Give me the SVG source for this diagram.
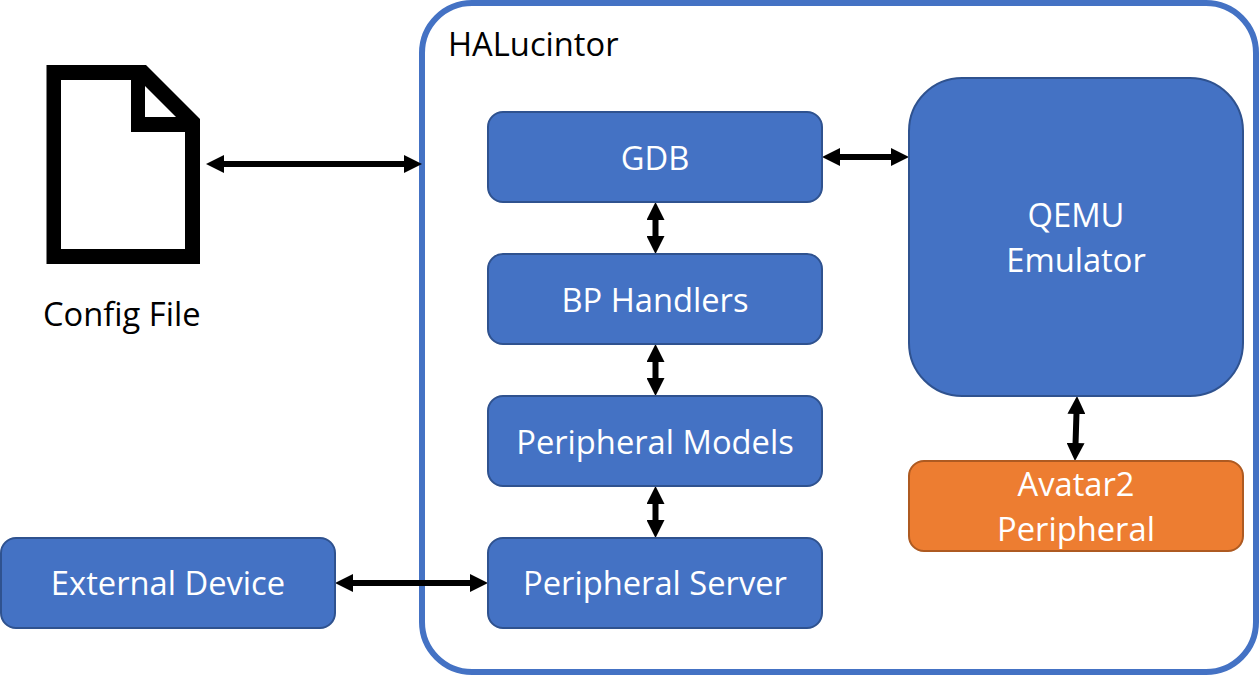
<svg xmlns="http://www.w3.org/2000/svg" width="1259" height="675" viewBox="0 0 1259 675">
<style>
text{font-family:"Open Sans","Noto Sans","Liberation Sans",sans-serif;font-size:32.7px}
.w{fill:#fff;text-anchor:middle}
.k{fill:#000}
.b{fill:#4472C4;stroke:#2F528F;stroke-width:2}
.o{fill:#ED7D31;stroke:#AE5A21;stroke-width:2}
.c{fill:none;stroke:#000;stroke-width:6}
</style>
<defs>
<marker id="h" markerUnits="userSpaceOnUse" markerWidth="18" markerHeight="18" refX="8" refY="9" orient="auto-start-reverse" viewBox="0 0 18 18">
<path d="M0 0L18 9L0 18Z" fill="#000"/>
</marker>
</defs>
<rect width="1259" height="675" fill="#fff"/>
<g id="halucintor">
<rect x="422" y="3" width="834" height="669" rx="50" fill="none" stroke="#4472C4" stroke-width="6"/>
<text class="k" x="448" y="56">HALucintor</text>
</g>
<g id="connectors">
<path class="c" d="M216 164H412" marker-start="url(#h)" marker-end="url(#h)"/>
<path class="c" d="M832 157H899" marker-start="url(#h)" marker-end="url(#h)"/>
<path class="c" d="M655.500 212V244" marker-start="url(#h)" marker-end="url(#h)"/>
<path class="c" d="M655.500 354V386" marker-start="url(#h)" marker-end="url(#h)"/>
<path class="c" d="M655.500 496V528" marker-start="url(#h)" marker-end="url(#h)"/>
<path class="c" d="M1076.700 406L1075.300 451" marker-start="url(#h)" marker-end="url(#h)"/>
<path class="c" d="M345 583H478" marker-start="url(#h)" marker-end="url(#h)"/>
</g>
<g id="config-file">
<path fill-rule="evenodd" d="M46.500 65H146L200 119V264H46.500ZM61 80V249H185V132H131V80ZM145 86V117H176Z" fill="#000"/>
<text class="k" x="43" y="326">Config File</text>
</g>
<g id="gdb"><rect class="b" x="488" y="112" width="334" height="90" rx="15"/><text class="w" x="655" y="170">GDB</text></g>
<g id="bp-handlers"><rect class="b" x="488" y="254" width="334" height="90" rx="15"/><text class="w" x="655" y="312">BP Handlers</text></g>
<g id="peripheral-models"><rect class="b" x="488" y="396" width="334" height="90" rx="15"/><text class="w" x="655" y="454">Peripheral Models</text></g>
<g id="peripheral-server"><rect class="b" x="488" y="538" width="334" height="90" rx="15"/><text class="w" x="655" y="595">Peripheral Server</text></g>
<g id="external-device"><rect class="b" x="1" y="538" width="334" height="90" rx="15"/><text class="w" x="168" y="595">External Device</text></g>
<g id="qemu"><rect class="b" x="909" y="78" width="334" height="318" rx="53"/><text class="w" x="1076" y="227">QEMU</text><text class="w" x="1076" y="272">Emulator</text></g>
<g id="avatar2"><rect class="o" x="909" y="461" width="334" height="90" rx="15"/><text class="w" x="1076" y="496">Avatar2</text><text class="w" x="1076" y="541">Peripheral</text></g>
</svg>
